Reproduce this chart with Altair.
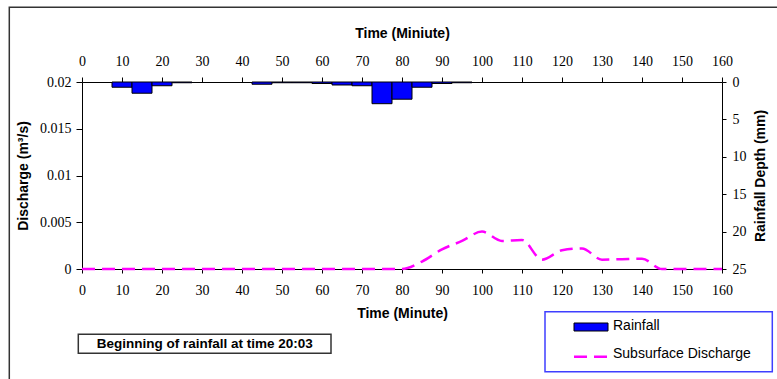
import altair as alt
import pandas as pd

# ---- data ----
rain_start = [7.5, 12.5, 17.5, 22.5, 42.5, 47.5, 52.5, 57.5, 62.5, 67.5, 72.5, 77.5, 82.5, 87.5, 92.5]
rain_end = [12.5, 17.5, 22.5, 27.5, 47.5, 52.5, 57.5, 62.5, 67.5, 72.5, 77.5, 82.5, 87.5, 92.5, 97.5]
rain_mm = [0.7, 1.5, 0.5, 0.1, 0.3, 0.1, 0.1, 0.2, 0.4, 0.5, 2.9, 2.3, 0.7, 0.2, 0.1]

q_minute = [0, 5, 10, 15, 20, 25, 30, 35, 40, 45, 50, 55, 60, 65, 70, 75, 80,
            85, 90, 95, 100, 105, 110, 115, 120, 125, 130, 135, 140, 145, 150, 155, 160]
q_value = [0, 0, 0, 0, 0, 0, 0, 0, 0, 0, 0, 0, 0, 0, 0, 0, 0,
           0.0008, 0.0021, 0.003, 0.004, 0.003, 0.0031, 0.001, 0.002, 0.0022, 0.001, 0.00105, 0.0011,
           0, 0, 0, 0]

x_ticks = list(range(0, 161, 10))
q_ticks = [0, 0.005, 0.01, 0.015, 0.02]
r_ticks = [0, 5, 10, 15, 20, 25]

rain = pd.DataFrame({"start": rain_start, "end": rain_end, "depth": rain_mm})
flow = pd.DataFrame({"minute": q_minute, "q": q_value})
one = pd.DataFrame({"a": [0]})

W, H = 640, 187
SERIF = "Liberation Serif"
SANS = "Liberation Sans"

xscale = alt.Scale(domain=[0, 160], nice=False, zero=False)

axis_common = dict(grid=False, domainColor="black", tickColor="black",
                   labelColor="black", titleColor="black", labelFont=SERIF,
                   labelFontSize=14, titleFontSize=14, titleFont=SANS,
                   titleFontWeight="bold", domainWidth=1, tickWidth=1,
                   labelFlush=False, labelOverlap=False)

bars = alt.Chart(rain).mark_rect(color="#0000ff", stroke="black", strokeWidth=1).encode(
    x=alt.X("start:Q", scale=xscale,
            axis=alt.Axis(orient="top", values=x_ticks, title="Time (Miniute)",
                          tickSize=5, labelPadding=9, titlePadding=14, **axis_common)),
    x2="end:Q",
    y=alt.Y("depth:Q", scale=alt.Scale(domain=[0, 25], reverse=True, nice=False),
            axis=alt.Axis(orient="right", values=r_ticks, title="Rainfall Depth (mm)",
                          tickSize=4, labelPadding=6, titleAngle=270,
                          titleX=38, titleY=H / 2, titleAlign="center",
                          titleBaseline="middle", **axis_common)),
    y2=alt.datum(0),
)

line = alt.Chart(flow).mark_line(color="#ff00ff", strokeWidth=2.5, strokeDash=[13, 7],
                                 interpolate="monotone").encode(
    x=alt.X("minute:Q", scale=xscale,
            axis=alt.Axis(orient="bottom", values=x_ticks, title="Time (Minute)",
                          tickSize=4, labelPadding=10, titlePadding=9, **axis_common)),
    y=alt.Y("q:Q", scale=alt.Scale(domain=[0, 0.02], nice=False),
            axis=alt.Axis(orient="left", values=q_ticks, format="~g", title="Discharge (m³/s)",
                          tickSize=6, labelPadding=5, titlePadding=9, **axis_common)),
)

base = alt.Chart(one)

border = base.mark_rect(fill=None, stroke="#333333", strokeWidth=1.5).encode(
    x=alt.value(-72.7), x2=alt.value(720), y=alt.value(-74.7), y2=alt.value(320))

legend_box = base.mark_rect(fill="white", stroke="#3f3fff", strokeWidth=1.5).encode(
    x=alt.value(463), x2=alt.value(690.3), y=alt.value(229.7), y2=alt.value(289.7))
legend_swatch = base.mark_rect(fill="#0000ff", stroke="black", strokeWidth=1).encode(
    x=alt.value(492), x2=alt.value(526), y=alt.value(241), y2=alt.value(249))
legend_dash = base.mark_rule(color="#ff00ff", strokeWidth=2.5, strokeDash=[13, 7]).encode(
    x=alt.value(492), x2=alt.value(526), y=alt.value(274.7))
legend_t1 = base.mark_text(text="Rainfall", font=SANS, fontSize=14, align="left",
                           baseline="middle", color="black").encode(
    x=alt.value(531), y=alt.value(244))
legend_t2 = base.mark_text(text="Subsurface Discharge", font=SANS, fontSize=14, align="left",
                           baseline="middle", color="black").encode(
    x=alt.value(531), y=alt.value(272))

note_box = base.mark_rect(fill="white", stroke="#333333", strokeWidth=1.5).encode(
    x=alt.value(-3.7), x2=alt.value(249), y=alt.value(252.3), y2=alt.value(271.3))
note_text = base.mark_text(text="Beginning of rainfall at time 20:03", font=SANS, fontSize=13.5,
                           fontWeight="bold", align="center", baseline="middle",
                           color="black").encode(x=alt.value(122.7), y=alt.value(262))

chart = alt.layer(
    bars, line, border, legend_box, legend_swatch, legend_dash, legend_t1, legend_t2,
    note_box, note_text
).resolve_scale(y="independent").resolve_axis(x="independent").properties(
    width=W, height=H,
    autosize=alt.AutoSizeParams(type="none"),
    padding={"left": 82, "top": 82, "right": 55, "bottom": 110},
    background="white",
).configure_view(stroke=None)

chart.save("out.html", embed_options={"renderer": "svg", "actions": False})
